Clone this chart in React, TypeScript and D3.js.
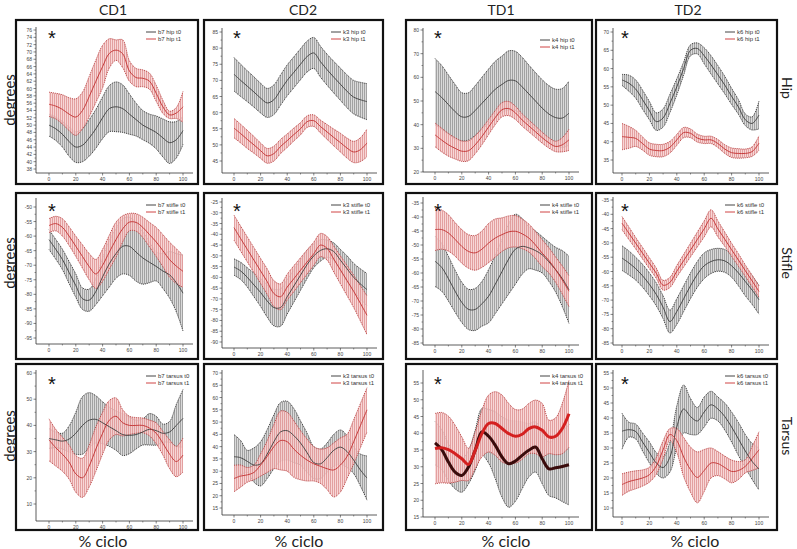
import React from "react";
import * as d3 from "d3";

// ---------- categories / labels ----------
const cyclePct = [0, 5, 10, 15, 20, 25, 30, 35, 40, 45, 50, 55, 60, 65, 70, 75, 80, 85, 90, 95, 100];
const xTicks = [0, 20, 40, 60, 80, 100];
const xMinorTicks = [10, 30, 50, 70, 90];
const groups = ["CD1", "CD2", "TD1", "TD2"];
const joints = ["Hip", "Stifle", "Tarsus"];
const subjects = ["b7", "k3", "k4", "k6"];
const jointWords = ["hip", "stifle", "tarsus"];
const sessions = ["t0", "t1"];

// ---------- Hip ----------
const cd1HipT0Mean = [50, 49, 47.5, 45.5, 44, 44.5, 46.5, 49, 52, 54.5, 55, 54.5, 53, 51.5, 50, 49, 48, 46.5, 45.2, 46, 48.5];
const cd1HipT0Sd = [3, 3.2, 3.5, 4, 4.2, 4.5, 5, 5.3, 5.7, 6.3, 6.8, 6.5, 5.5, 4.5, 4, 4, 4.5, 5.2, 5.7, 5, 3.8];
const cd1HipT1Mean = [55.7, 55.2, 54.3, 53, 52.2, 54, 57.8, 62, 66, 69.6, 70.5, 69.5, 64.8, 63, 62.8, 62, 58.7, 55, 52.8, 53.3, 55];
const cd1HipT1Sd = [3.3, 3.5, 4, 4.5, 5, 5, 5.5, 5.8, 5.8, 4, 2.8, 3.8, 2.8, 2.5, 2.3, 2.2, 2.2, 1.8, 1, 1.5, 4.2];

const cd2HipT0Mean = [71.9, 70, 68.2, 66.4, 64.5, 63, 64, 67, 70, 72.5, 75, 77.4, 78.5, 75.8, 73.3, 71, 68.8, 66.6, 64.8, 64, 63.4];
const cd2HipT0Sd = [5.2, 5, 4.8, 4.7, 4.6, 4.5, 4.6, 4.7, 4.8, 4.8, 4.8, 4.8, 4.8, 4.8, 4.8, 4.9, 5, 5.1, 5.2, 5.4, 5.6];
const cd2HipT1Mean = [55.2, 53.5, 51.7, 50, 48.2, 46.6, 47.3, 49.5, 51.3, 53.2, 55, 57.2, 57.5, 55.7, 54, 52.3, 50.7, 49, 47.8, 48.5, 50.6];
const cd2HipT1Sd = [3, 2.9, 2.8, 2.6, 2.4, 2.3, 2.3, 2.2, 2.1, 2, 1.9, 1.8, 1.8, 2, 2.3, 2.6, 2.9, 3.1, 3.3, 3.7, 4.3];

const td1HipT0Mean = [54, 51.5, 48.5, 45.5, 43.3, 43.5, 46, 49, 52, 55, 57, 58.7, 58.5, 56, 53, 50, 47, 44.5, 43, 42.8, 44.9];
const td1HipT0Sd = [14, 13.5, 12.5, 11.5, 10.2, 10, 10.5, 11, 11.5, 11.8, 12, 12.5, 12.5, 12.5, 12.2, 12, 12, 12, 12, 12.5, 13.5];
const td1HipT1Mean = [35.7, 33.5, 31.5, 30, 28.8, 29, 31.5, 35, 39, 43, 46.3, 46.8, 45, 42, 39.5, 37, 34.5, 32.3, 30.8, 31.5, 33.6];
const td1HipT1Sd = [5, 5, 4.8, 4.5, 4.3, 4.2, 3.8, 3.5, 3.2, 3, 3, 3, 2.8, 2.6, 2.5, 2.4, 2.3, 2.2, 2.2, 3, 4.5];

const td2HipT0Mean = [56.9, 56, 54.4, 51.5, 48.5, 45.5, 46.5, 50.5, 55, 60, 65, 65.5, 63.5, 61, 58.3, 55.5, 52.4, 49.5, 46, 45, 47.3];
const td2HipT0Sd = [1.5, 2.2, 2.5, 2.6, 2.5, 2.4, 2.5, 2.5, 2.2, 1.8, 1.5, 1.5, 2.2, 2.5, 2.5, 2.4, 2.2, 2, 1.6, 1.8, 3.8];
const td2HipT1Mean = [41.4, 41.2, 40.9, 39.5, 38, 37.6, 37.6, 38.5, 40.5, 42.5, 42.3, 41, 40.5, 40.5, 39.5, 38, 37, 36.8, 36.8, 37.3, 39.6];
const td2HipT1Sd = [3.6, 3, 2.2, 1.8, 1.7, 1.7, 1.7, 1.6, 1.5, 1.4, 1.2, 1.1, 1, 1, 1.1, 1.2, 1.3, 1.3, 1.2, 1.3, 2];

// ---------- Stifle ----------
const cd1StifleT0Mean = [-61.2, -64.5, -68, -72.5, -77, -81.5, -82, -79, -74, -69.5, -66, -63.5, -63.5, -65.5, -67.5, -69, -70.4, -72, -73.3, -76, -79.6];
const cd1StifleT0Sd = [3.4, 3.4, 3.5, 3.8, 4, 3.7, 3.8, 4.5, 6.5, 8, 8.5, 9.5, 10, 10, 9, 7, 5, 6, 8, 10, 13];
const cd1StifleT1Mean = [-56.4, -55.7, -57, -60, -63.5, -67, -70.5, -73, -70, -65.5, -61.2, -57.5, -55.2, -55.3, -57, -59.5, -62, -65, -68.1, -70.3, -72.1];
const cd1StifleT1Sd = [2.4, 2.5, 3, 3.2, 3.5, 4, 4.5, 5, 5.5, 5.8, 6, 4.5, 3, 3, 3.5, 4.2, 5, 5.5, 6, 6, 5.5];

const cd2StifleT0Mean = [-55.2, -57, -60, -63.5, -67, -71, -74, -74, -69, -64, -59, -54, -50, -47.5, -46.7, -48, -52, -56, -60, -63, -65.7];
const cd2StifleT0Sd = [3.8, 4, 4.5, 5.5, 6.5, 7.5, 8.5, 8.7, 8, 7.5, 7, 6.5, 5.5, 5, 4, 4, 5, 6, 6.5, 7, 7.5];
const cd2StifleT1Mean = [-36.9, -42, -47, -52, -57, -62, -67.5, -69, -64.5, -60.6, -56.7, -52.8, -49, -45, -46.5, -51.5, -56.5, -61.5, -66.5, -72, -77.6];
const cd2StifleT1Sd = [5.8, 5.8, 5.8, 5.8, 5.8, 5.9, 6, 6, 6, 6, 5.8, 5.6, 5.4, 5.4, 5.5, 6, 6.5, 7, 7.5, 8.2, 9];

const td1StifleT0Mean = [-55.8, -58, -62, -66.5, -70.5, -73, -73, -71, -68.3, -64, -59.5, -55, -51.5, -50.5, -51, -52, -53.5, -56, -58.8, -62, -66];
const td1StifleT0Sd = [9, 8.5, 8, 7.5, 7.2, 7.2, 7.5, 8, 9.5, 10.5, 11.5, 12.5, 12.5, 10, 7.5, 7, 6.5, 7, 8, 10, 12];
const td1StifleT1Mean = [-44.5, -44.5, -45.7, -48, -50.5, -52.3, -52.8, -51.5, -49.3, -47.5, -46.3, -45.3, -45.1, -46, -47.5, -50, -52.9, -55.5, -58.8, -62.5, -66.5];
const td1StifleT1Sd = [7.5, 7, 6.5, 6, 6, 6, 6.2, 6.5, 7, 6.8, 6, 5.7, 5.6, 5.3, 5, 4.8, 4.8, 4.5, 4.5, 5, 5.5];

const td2StifleT0Mean = [-55.3, -57, -59, -61.5, -64.5, -68, -72.5, -77.5, -74, -69.5, -65, -61, -58, -56.5, -55.9, -56.3, -58, -60.5, -63.5, -66.5, -69.9];
const td2StifleT0Sd = [4.3, 4.2, 4, 4, 4, 4, 4, 4, 4.5, 4.5, 4.5, 4.5, 4.5, 4.2, 4, 4, 4, 4.5, 5, 5, 5];
const td2StifleT1Mean = [-43.1, -46.6, -50.1, -53.6, -57.1, -60.6, -64.8, -63.8, -59.9, -56.2, -52.5, -48.8, -45.1, -41.4, -45.1, -48.7, -52.4, -56, -59.7, -63.3, -67];
const td2StifleT1Sd = [2.3, 2.2, 2, 2, 1.9, 1.8, 1.7, 1.8, 2, 2.2, 2.4, 2.6, 2.8, 3, 2.8, 2.5, 2.3, 2.2, 2, 2, 2];

// ---------- Tarsus ----------
const cd1TarsusT0Mean = [35, 34.5, 34, 34.8, 37, 40, 42, 42.3, 41, 39.5, 38, 36.5, 36.2, 36.5, 37.5, 38.5, 38, 37, 37.5, 40, 42.7];
const cd1TarsusT0Sd = [3.8, 3, 3, 5, 8, 11, 10.5, 9, 8, 7.5, 7.5, 8, 7, 5.5, 5, 6, 5.5, 3.5, 4, 8, 11];
const cd1TarsusT1Mean = [34.5, 31.5, 29, 26, 21.5, 20, 24.5, 31, 37, 42, 43.5, 41, 40, 40, 40, 39, 37, 33.2, 29, 26.2, 28.7];
const cd1TarsusT1Sd = [8, 7, 6.5, 6.5, 7, 7.5, 8, 8.5, 8, 7.5, 7, 5, 3.5, 3, 2.8, 3, 4, 4.5, 5.5, 5.8, 6.5];

const cd2TarsusT0Mean = [35.9, 35.5, 34, 32.5, 33, 37, 42, 46, 46.5, 44.5, 41.5, 37.5, 33.5, 33, 35.5, 38.5, 39.8, 38, 34.5, 30.5, 27.2];
const cd2TarsusT0Sd = [9, 7, 4.5, 7, 9, 10, 11, 12, 12, 11, 9, 8, 6.5, 6, 6, 6.5, 7, 6.5, 5.5, 6.5, 9];
const cd2TarsusT1Mean = [27, 28, 28.5, 29.5, 32.5, 36, 40, 42.5, 42, 39, 36.5, 34.5, 33, 32, 31, 30.5, 32.5, 36, 42, 48.5, 55];
const cd2TarsusT1Sd = [5.4, 4.5, 3, 3, 4.5, 6.5, 9, 12, 12, 11.5, 10, 8.5, 7, 7, 8.5, 11, 11, 9, 9, 9, 9];

const td1TarsusT0Mean = [37.1, 35.1, 31.4, 28.4, 27.4, 29.9, 34.9, 40.4, 39.1, 36.4, 32.9, 30.9, 31.7, 33.4, 34.9, 35.9, 32.4, 29.4, 29.7, 30.1, 30.6];
const td1TarsusT0Sd = [6.5, 6, 5.5, 5, 5, 5, 6, 7, 8, 10, 12, 13, 12, 10, 8, 7.5, 7.5, 8, 9, 10.5, 12];
const td1TarsusT1Mean = [35.4, 35.7, 35.1, 33.9, 32.4, 30.7, 34.9, 39.9, 42.9, 42.9, 41.4, 39.9, 39.1, 39.7, 41.4, 41.9, 40.9, 38.9, 39.1, 41.4, 45.8];
const td1TarsusT1Sd = [10.5, 10.5, 10, 8.5, 6.5, 4.8, 5.5, 7, 8.5, 9.5, 10, 9, 8, 7.5, 7.5, 8, 8, 5, 5.5, 7.5, 10];

const td2TarsusT0Mean = [35.6, 36.1, 35.5, 32, 28.5, 25, 23.5, 27, 37, 43, 40.5, 39, 42, 44.4, 43, 40.5, 37, 33, 29, 25.5, 23];
const td2TarsusT0Sd = [6, 2.5, 2.5, 3, 3.5, 3.5, 3.5, 5, 7, 8, 6, 4.5, 5, 4.5, 4, 4.5, 5, 5.5, 5.5, 6, 7];
const td2TarsusT1Mean = [17.8, 18.8, 19.4, 20, 21.1, 24, 29.4, 34.5, 32.5, 27, 22.8, 20.2, 22.5, 25, 24.8, 23.5, 22.2, 22.5, 23.9, 26.5, 29.4];
const td2TarsusT1Sd = [3.6, 3.2, 3, 2.7, 2.5, 2.8, 3, 2, 4, 6.5, 7.5, 8.5, 7, 5, 4, 3.8, 3.8, 3, 2.2, 4, 6];

// ---------- y tick labels ----------
const cd1HipTicks = [38, 40, 42, 44, 46, 48, 50, 52, 54, 56, 58, 60, 62, 64, 66, 68, 70, 72, 74, 76];
const cd2HipTicks = [45, 50, 55, 60, 65, 70, 75, 80, 85];
const td1HipTicks = [20, 30, 40, 50, 60, 70, 80];
const td2HipTicks = [35, 40, 45, 50, 55, 60, 65, 70];
const cd1StifleTicks = [-95, -90, -85, -80, -75, -70, -65, -60, -55, -50];
const cd2StifleTicks = [-90, -85, -80, -75, -70, -65, -60, -55, -50, -45, -40, -35, -30, -25];
const td1StifleTicks = [-85, -80, -75, -70, -65, -60, -55, -50, -45, -40, -35];
const td2StifleTicks = [-85, -80, -75, -70, -65, -60, -55, -50, -45, -40, -35];
const cd1TarsusTicks = [10, 20, 30, 40, 50, 60];
const cd2TarsusTicks = [15, 20, 25, 30, 35, 40, 45, 50, 55, 60, 65, 70];
const td1TarsusTicks = [15, 20, 25, 30, 35, 40, 45, 50, 55];
const td2TarsusTicks = [10, 15, 20, 25, 30, 35, 40, 45, 50, 55];

const panels = [
  { t0Mean: cd1HipT0Mean, t0Sd: cd1HipT0Sd, t1Mean: cd1HipT1Mean, t1Sd: cd1HipT1Sd, ticks: cd1HipTicks, star: true, bold: false },
  { t0Mean: cd2HipT0Mean, t0Sd: cd2HipT0Sd, t1Mean: cd2HipT1Mean, t1Sd: cd2HipT1Sd, ticks: cd2HipTicks, star: true, bold: false },
  { t0Mean: td1HipT0Mean, t0Sd: td1HipT0Sd, t1Mean: td1HipT1Mean, t1Sd: td1HipT1Sd, ticks: td1HipTicks, star: true, bold: false },
  { t0Mean: td2HipT0Mean, t0Sd: td2HipT0Sd, t1Mean: td2HipT1Mean, t1Sd: td2HipT1Sd, ticks: td2HipTicks, star: true, bold: false },
  { t0Mean: cd1StifleT0Mean, t0Sd: cd1StifleT0Sd, t1Mean: cd1StifleT1Mean, t1Sd: cd1StifleT1Sd, ticks: cd1StifleTicks, star: true, bold: false },
  { t0Mean: cd2StifleT0Mean, t0Sd: cd2StifleT0Sd, t1Mean: cd2StifleT1Mean, t1Sd: cd2StifleT1Sd, ticks: cd2StifleTicks, star: true, bold: false },
  { t0Mean: td1StifleT0Mean, t0Sd: td1StifleT0Sd, t1Mean: td1StifleT1Mean, t1Sd: td1StifleT1Sd, ticks: td1StifleTicks, star: true, bold: false },
  { t0Mean: td2StifleT0Mean, t0Sd: td2StifleT0Sd, t1Mean: td2StifleT1Mean, t1Sd: td2StifleT1Sd, ticks: td2StifleTicks, star: true, bold: false },
  { t0Mean: cd1TarsusT0Mean, t0Sd: cd1TarsusT0Sd, t1Mean: cd1TarsusT1Mean, t1Sd: cd1TarsusT1Sd, ticks: cd1TarsusTicks, star: true, bold: false },
  { t0Mean: cd2TarsusT0Mean, t0Sd: cd2TarsusT0Sd, t1Mean: cd2TarsusT1Mean, t1Sd: cd2TarsusT1Sd, ticks: cd2TarsusTicks, star: false, bold: false },
  { t0Mean: td1TarsusT0Mean, t0Sd: td1TarsusT0Sd, t1Mean: td1TarsusT1Mean, t1Sd: td1TarsusT1Sd, ticks: td1TarsusTicks, star: true, bold: true },
  { t0Mean: td2TarsusT0Mean, t0Sd: td2TarsusT0Sd, t1Mean: td2TarsusT1Mean, t1Sd: td2TarsusT1Sd, ticks: td2TarsusTicks, star: true, bold: false },
];

// ---------- layout (pixels) ----------
const colLayout = [
  { bx0: 16, bx1: 198, axisX: 36, x0: 49, x100: 183, title: 113, foot: 103 },
  { bx0: 204, bx1: 383, axisX: 222, x0: 234, x100: 367, title: 303, foot: 299 },
  { bx0: 406, bx1: 592, axisX: 423, x0: 435, x100: 569, title: 501, foot: 506 },
  { bx0: 596, bx1: 777, axisX: 613, x0: 622, x100: 759, title: 688, foot: 695 },
];
const rowLayout = [
  { by0: 20, by1: 184, label: 100 },
  { by0: 193, by1: 359, label: 263 },
  { by0: 364, by1: 530, label: 436 },
];
// [px of lowest tick, px of highest tick, axis bottom, axis top]
const yLayout = [
  [169, 30, 173, 27], [161, 32, 173, 28], [172, 30, 172, 28], [160, 32, 173, 28],
  [338, 207, 344, 198], [342, 202, 348, 198], [343, 203, 345, 197], [343, 200, 345, 197],
  [504, 373, 521, 370], [508, 373, 515, 370], [517, 383, 517, 370], [508, 373, 517, 370],
];

const FONT = "Lato, 'Open Sans', sans-serif";
const TICKFONT = "'Liberation Sans', Arial, sans-serif";

function Panel({ row, col }: { row: number; col: number }) {
  const idx = row * 4 + col;
  const d = panels[idx];
  const c = colLayout[col];
  const r = rowLayout[row];
  const yl = yLayout[idx];
  const t = d.ticks;
  const x = d3.scaleLinear().domain([0, 100]).range([c.x0, c.x100]);
  const y = d3.scaleLinear().domain([t[0], t[t.length - 1]]).range([yl[0], yl[1]]);
  const curve = d3.curveCatmullRom.alpha(0.5);

  const band = (mean: number[], sd: number[]) =>
    d3.area<number>()
      .x((_, i) => x(cyclePct[i]))
      .y0((m, i) => y(m - sd[i]))
      .y1((m, i) => y(m + sd[i]))
      .curve(curve)(mean) || "";
  const edge = (mean: number[], sd: number[], sign: number) =>
    d3.line<number>()
      .x((_, i) => x(cyclePct[i]))
      .y((m, i) => y(m + sign * sd[i]))
      .curve(curve)(mean) || "";
  const meanLine = (mean: number[]) =>
    d3.line<number>().x((_, i) => x(cyclePct[i])).y((m) => y(m)).curve(curve)(mean) || "";

  const minorY = t.slice(1).map((v, i) => (v + t[i]) / 2);
  const axisBottom = yl[2];
  const axisTop = yl[3];
  const xEnd = c.x100 + 10;

  const legendX = c.bx1 - 40;
  const legendY = r.by0 + (row === 0 && col === 2 ? 20 : 12);

  const series = [
    { mean: d.t0Mean, sd: d.t0Sd, fill: "url(#hatchGray)", edgeColor: "#333", lineColor: d.bold ? "#3a0c0c" : "#3d3d3d" },
    { mean: d.t1Mean, sd: d.t1Sd, fill: "url(#hatchRed)", edgeColor: "#b84040", lineColor: d.bold ? "#d42020" : "#c23030" },
  ];

  return (
    <g>
      <rect x={c.bx0} y={r.by0} width={c.bx1 - c.bx0} height={r.by1 - r.by0} fill="#fff" stroke="#111" strokeWidth={2.2} />
      {series.map((s, k) => (
        <g key={"b" + k}>
          <path d={band(s.mean, s.sd)} fill={s.fill} stroke="none" />
          <path d={edge(s.mean, s.sd, 1)} fill="none" stroke={s.edgeColor} strokeWidth={0.9} strokeDasharray="1.1 0.9" />
          <path d={edge(s.mean, s.sd, -1)} fill="none" stroke={s.edgeColor} strokeWidth={0.9} strokeDasharray="1.1 0.9" />
        </g>
      ))}
      {series.map((s, k) => (
        <path key={"m" + k} d={meanLine(s.mean)} fill="none" stroke={s.lineColor} strokeWidth={d.bold ? 3 : 0.9} />
      ))}
      {/* axes */}
      <line x1={c.axisX} x2={c.axisX} y1={axisTop} y2={axisBottom} stroke="#333" strokeWidth={0.8} />
      <line x1={c.axisX} x2={xEnd} y1={axisBottom} y2={axisBottom} stroke="#333" strokeWidth={0.8} />
      {t.map((v) => (
        <g key={"yt" + v}>
          <line x1={c.axisX - 2.5} x2={c.axisX} y1={y(v)} y2={y(v)} stroke="#333" strokeWidth={0.6} />
          <text x={c.axisX - 4} y={y(v)} fontSize={5} fontFamily={TICKFONT} fill="#444" textAnchor="end" dominantBaseline="central">{v}</text>
        </g>
      ))}
      {minorY.map((v) => (
        <line key={"ym" + v} x1={c.axisX - 1.5} x2={c.axisX} y1={y(v)} y2={y(v)} stroke="#333" strokeWidth={0.5} />
      ))}
      {xTicks.map((v) => (
        <g key={"xt" + v}>
          <line x1={x(v)} x2={x(v)} y1={axisBottom} y2={axisBottom + 2.5} stroke="#333" strokeWidth={0.6} />
          <text x={x(v)} y={axisBottom + 8} fontSize={5} fontFamily={TICKFONT} fill="#444" textAnchor="middle">{v}</text>
        </g>
      ))}
      {xMinorTicks.map((v) => (
        <line key={"xm" + v} x1={x(v)} x2={x(v)} y1={axisBottom} y2={axisBottom + 1.5} stroke="#333" strokeWidth={0.5} />
      ))}
      {/* legend */}
      {sessions.map((sName, k) => (
        <g key={"lg" + k}>
          <line x1={legendX - 12} x2={legendX - 2} y1={legendY + k * 7} y2={legendY + k * 7} stroke={k === 0 ? "#444" : "#d04545"} strokeWidth={1} />
          <text x={legendX} y={legendY + k * 7} fontSize={6} fontFamily={TICKFONT} fill="#333" dominantBaseline="central">
            {`${subjects[col]} ${jointWords[row]} ${sName}`}
          </text>
        </g>
      ))}
      {d.star && (
        <text x={x(0) + 3} y={r.by0 + (row === 2 ? 16 : 14) + 11} fontSize={20} fontFamily={TICKFONT} fill="#111" textAnchor="middle">*</text>
      )}
    </g>
  );
}

export default function App() {
  return (
    <svg width={797} height={549} viewBox="0 0 797 549" style={{ position: "absolute", left: 0, top: 0, background: "#fff" }}>
      <defs>
        <pattern id="hatchGray" patternUnits="userSpaceOnUse" width={2} height={4}>
          <rect width={2} height={4} fill="#dadada" />
          <rect x={0} width={1} height={4} fill="#a2a2a2" />
        </pattern>
        <pattern id="hatchRed" patternUnits="userSpaceOnUse" width={2} height={4}>
          <rect width={2} height={4} fill="#f6cdcd" fillOpacity={0.8} />
          <rect x={0} width={1} height={4} fill="#e29a9a" fillOpacity={0.9} />
        </pattern>
      </defs>
      <rect width={797} height={549} fill="#fff" />
      {groups.map((g, ci) => (
        <text key={g} x={colLayout[ci].title} y={15} fontSize={14} fontFamily={FONT} fill="#222" textAnchor="middle">{g}</text>
      ))}
      {groups.map((g, ci) => (
        <text key={"f" + g} x={colLayout[ci].foot} y={547} fontSize={16} fontFamily={FONT} fill="#222" textAnchor="middle">% ciclo</text>
      ))}
      {joints.map((j, ri) => (
        <g key={j}>
          <text transform={`translate(9,${rowLayout[ri].label}) rotate(-90)`} fontSize={15} fontFamily={FONT} fill="#222" textAnchor="middle" dominantBaseline="central">degrees</text>
          <text transform={`translate(787,${rowLayout[ri].label - (ri === 0 ? 12 : 0)}) rotate(90)`} fontSize={14} fontFamily={FONT} fill="#222" textAnchor="middle" dominantBaseline="central">{j}</text>
        </g>
      ))}
      {joints.map((_, ri) => groups.map((__, ci) => <Panel key={ri + "-" + ci} row={ri} col={ci} />))}
    </svg>
  );
}
